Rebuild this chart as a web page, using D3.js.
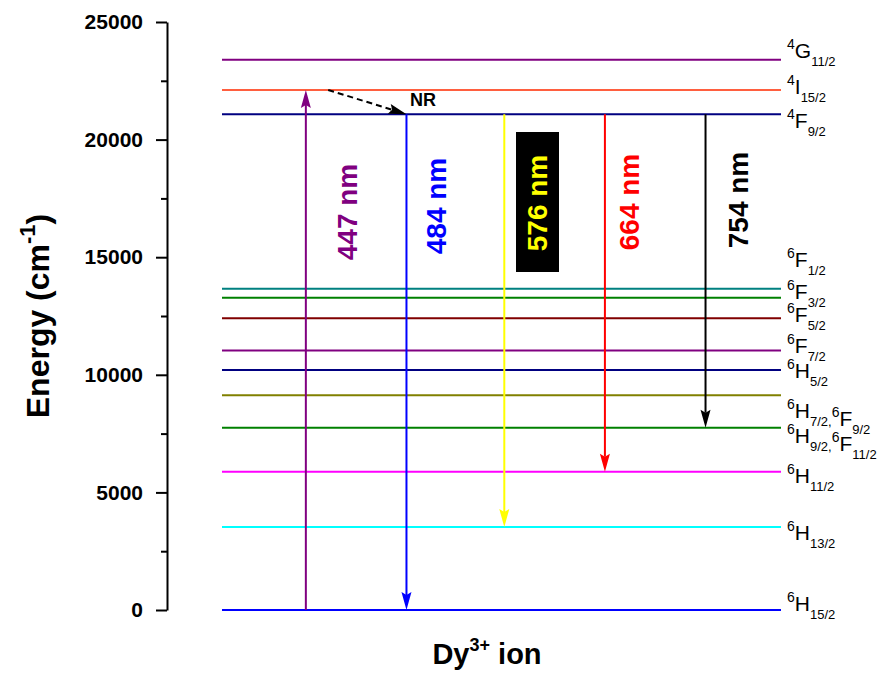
<!DOCTYPE html>
<html>
<head>
<meta charset="utf-8">
<script src="https://cdn.jsdelivr.net/npm/d3@7"></script>
<style>
  body { margin: 0; background: #fff; }
  svg { display: block; font-family: "Liberation Sans", Arial, sans-serif; }
</style>
</head>
<body>
<div class="diagram"></div>
<script>
// energy levels of Dy3+ (cm-1), top to bottom
const levelTerms = ["4G11/2", "4I15/2", "4F9/2", "6F1/2", "6F3/2", "6F5/2", "6F7/2",
    "6H5/2", "6H7/2, 6F9/2", "6H9/2, 6F11/2", "6H11/2", "6H13/2", "6H15/2"];
const levelEnergy = [23400, 22110, 21080, 13660, 13280, 12400, 11030,
    10200, 9130, 7750, 5880, 3530, 0];
const levelColors = ["#800080", "#ff5f3f", "#000080", "#008080", "#008000", "#800000", "#800080",
    "#000080", "#808000", "#008000", "#ff00ff", "#00ffff", "#0000ff"];

// transitions: excitation + emissions
const waveLabels = ["447 nm", "484 nm", "576 nm", "664 nm", "754 nm"];
const transFrom = [0, 21080, 21080, 21080, 21080];
const transTo = [22110, 0, 3530, 5880, 7750];
const transSlot = [15, 33, 50.5, 68.5, 86.5];
const transColors = ["#800080", "#0000ff", "#ffff00", "#ff0000", "#000000"];

// non radiative relaxation
const nrFrom = {slot: 19, energy: 22110};
const nrTo = {slot: 33, energy: 21080};

const majorTicks = [0, 5000, 10000, 15000, 20000, 25000];
const minorTicks = [2500, 7500, 12500, 17500, 22500];

// layout tweaks (pixels)
const labelShift = [-2, 4, 14, -22, 1, 4, 2, 8, 23, 15, 11, 13, 1];
const waveDx = [42, 30, 33, 25, 33];
const waveY = [212, 206, 203, 202, 200];

const width = 879, height = 679;

const svg = d3.select(".diagram")
    .append("svg")
    .attr("width", width)
    .attr("height", height);

svg.append("rect").attr("width", width).attr("height", height).attr("fill", "#fff");

const y = d3.scaleLinear().domain([0, 25000]).range([610, 22]);
const x = d3.scaleLinear().domain([0, 100]).range([222, 781]);
const axisX = 167;

// y axis
const axis = svg.append("g")
    .attr("transform", "translate(" + axisX + ",0)")
    .call(d3.axisLeft(y).tickValues(majorTicks).tickSize(11).tickPadding(13).tickSizeOuter(0)
        .tickFormat(d3.format("d")));
axis.select(".domain").attr("stroke-width", 2);
axis.selectAll(".tick line").attr("stroke-width", 2);
axis.selectAll("text")
    .attr("font-size", 21)
    .attr("font-weight", "bold")
    .attr("font-family", "Liberation Sans, Arial, sans-serif");

const minor = svg.append("g")
    .attr("transform", "translate(" + axisX + ",0)")
    .call(d3.axisLeft(y).tickValues(minorTicks).tickSize(6).tickFormat("").tickSizeOuter(0));
minor.select(".domain").remove();
minor.selectAll(".tick line").attr("stroke-width", 2);

// axis titles
const yTitle = svg.append("text")
    .attr("transform", "translate(49,316) rotate(-90)")
    .attr("text-anchor", "middle")
    .attr("font-size", 32)
    .attr("font-weight", "bold");
yTitle.append("tspan").text("Energy (cm");
yTitle.append("tspan").attr("dy", -14).attr("font-size", 22).text("-1");
yTitle.append("tspan").attr("dy", 14).text(")");

const xTitle = svg.append("text")
    .attr("x", 487).attr("y", 664)
    .attr("text-anchor", "middle")
    .attr("font-size", 29)
    .attr("font-weight", "bold");
xTitle.append("tspan").text("Dy");
xTitle.append("tspan").attr("dy", -13).attr("font-size", 18).text("3+");
xTitle.append("tspan").attr("dy", 13).text(" ion");

// level lines
svg.selectAll(".level")
    .data(levelEnergy)
    .enter()
    .append("line")
        .attr("class", "level")
        .attr("x1", x(0))
        .attr("x2", x(100))
        .attr("y1", d => y(d))
        .attr("y2", d => y(d))
        .attr("stroke", (d, i) => levelColors[i])
        .attr("stroke-width", 2);

// term labels like 6H7/2
function drawTerm(sel, term, last) {
    const sup = term[0], main = term[1], sub = term.slice(2);
    sel.append("tspan").attr("dy", -9).attr("font-size", 14).text(sup);
    sel.append("tspan").attr("dy", 9).text(main);
    sel.append("tspan").attr("dy", 8).attr("font-size", 13).text(sub + (last ? "" : ","));
    sel.append("tspan").attr("dy", -8).text("");
}

levelTerms.forEach(function(t, i) {
    const txt = svg.append("text")
        .attr("x", 787)
        .attr("y", y(levelEnergy[i]) + labelShift[i])
        .attr("font-size", 21)
        .attr("fill", "#000");
    const terms = t.split(", ");
    terms.forEach((tt, j) => drawTerm(txt, tt, j == terms.length - 1));
});

// arrows
function arrow(x1, y1, x2, y2, color, dashed) {
    const len = Math.hypot(x2 - x1, y2 - y1);
    const ux = (x2 - x1) / len, uy = (y2 - y1) / len;
    const head = 18, half = 5, notch = 3;
    svg.append("line")
        .attr("x1", x1).attr("y1", y1)
        .attr("x2", x2 - ux * (head - notch)).attr("y2", y2 - uy * (head - notch))
        .attr("stroke", color)
        .attr("stroke-width", 2)
        .attr("stroke-dasharray", dashed ? "6,4" : null);
    const bx = x2 - ux * head, by = y2 - uy * head;
    const nx = x2 - ux * (head - notch), ny = y2 - uy * (head - notch);
    const pts = [[x2, y2], [bx - uy * half, by + ux * half], [nx, ny], [bx + uy * half, by - ux * half]];
    svg.append("path")
        .attr("d", "M" + pts.map(p => p.join(",")).join("L") + "Z")
        .attr("fill", color);
}

transFrom.forEach(function(f, i) {
    arrow(x(transSlot[i]), y(f), x(transSlot[i]), y(transTo[i]), transColors[i], false);
});

arrow(x(nrFrom.slot), y(nrFrom.energy), x(nrTo.slot), y(nrTo.energy), "#000", true);
svg.append("text")
    .attr("x", 410).attr("y", 106)
    .attr("font-size", 18)
    .attr("font-weight", "bold")
    .text("NR");

// wavelength labels
svg.append("rect")
    .attr("x", 516).attr("y", 132)
    .attr("width", 43).attr("height", 140)
    .attr("fill", "#000");

waveLabels.forEach(function(w, i) {
    const cx = x(transSlot[i]) + waveDx[i];
    svg.append("text")
        .attr("transform", "translate(" + cx + "," + waveY[i] + ") rotate(-90)")
        .attr("text-anchor", "middle")
        .attr("dominant-baseline", "central")
        .attr("font-size", 28)
        .attr("font-weight", "bold")
        .attr("fill", transColors[i])
        .text(w);
});
</script>
</body>
</html>
